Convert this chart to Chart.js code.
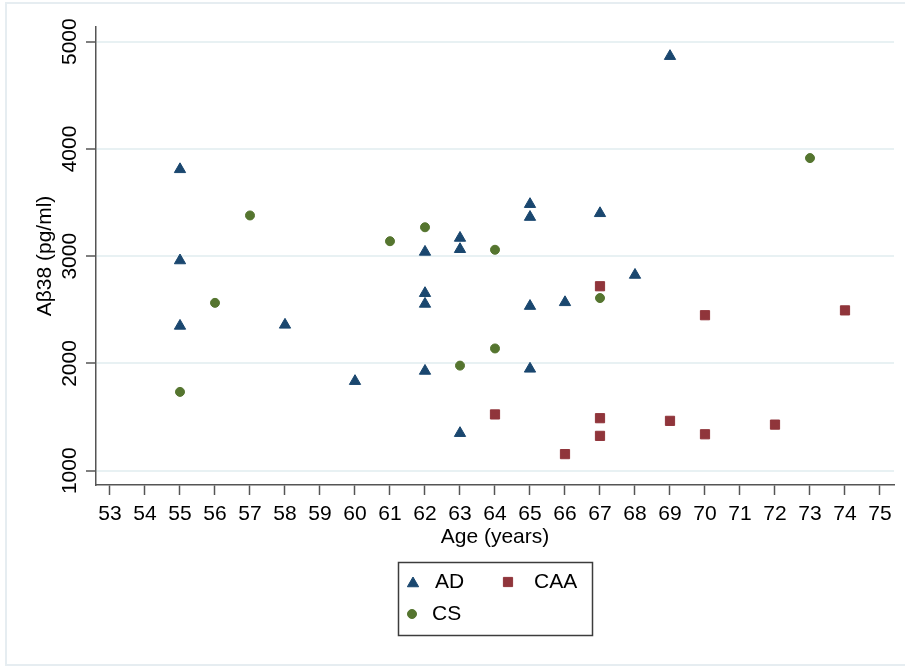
<!DOCTYPE html>
<html>
<head>
<meta charset="utf-8">
<title>Aβ38 by age</title>
<script src="https://cdn.jsdelivr.net/npm/chart.js@4.4.1/dist/chart.umd.min.js"></script>
<style>
  body { margin: 0; background: #fff; }
  #chart { display: block; }
</style>
</head>
<body>
<canvas id="chart" width="905" height="666"></canvas>
<script>
// Values
const xTicks = [53, 54, 55, 56, 57, 58, 59, 60, 61, 62, 63, 64, 65, 66, 67, 68, 69, 70, 71, 72, 73, 74, 75];
const yTicks = [1000, 2000, 3000, 4000, 5000];

const adAge = [55, 55, 55, 58, 60, 62, 62, 62, 62, 63, 63, 63, 65, 65, 65, 65, 66, 67, 68, 69];
const adValue = [3810, 2960, 2350, 2360, 1835, 3040, 2655, 2555, 1930, 3170, 3065, 1350, 3485, 3365, 2535, 1950, 2570, 3400, 2825, 4865];

const caaAge = [64, 66, 67, 67, 67, 69, 70, 70, 72, 74];
const caaValue = [1525, 1155, 2720, 1490, 1325, 1465, 1340, 2450, 1430, 2495];

const csAge = [55, 56, 57, 61, 62, 63, 64, 64, 67, 73];
const csValue = [1735, 2565, 3380, 3140, 3270, 1980, 3060, 2140, 2610, 3915];

function toPoints(xs, ys) {
    return xs.map((x, i) => ({ x: x, y: ys[i] }));
}

// white background + thin light frame round the picture
const framePlugin = {
    id: 'frame',
    beforeDraw(chart) {
        const ctx = chart.ctx;
        ctx.save();
        ctx.fillStyle = '#fff';
        ctx.fillRect(0, 0, chart.width, chart.height);
        ctx.strokeStyle = '#e6edf1';
        ctx.lineWidth = 2;
        ctx.strokeRect(6, 3, chart.width + 10, 662);
        ctx.restore();
    }
};

// Stata-like boxed legend below the axis title (2 columns)
const boxLegendPlugin = {
    id: 'boxLegend',
    afterDraw(chart) {
        const ctx = chart.ctx;
        const slots = [
            { mx: 413, my: 583.5, tx: 435, ty: 582 },
            { mx: 508, my: 582, tx: 534, ty: 582 },
            { mx: 412, my: 614, tx: 432, ty: 614 }
        ];
        ctx.save();
        ctx.strokeStyle = '#3c3c3c';
        ctx.lineWidth = 1.5;
        ctx.strokeRect(398.5, 562.5, 194, 73);
        chart.data.datasets.forEach((ds, i) => {
            const s = slots[i];
            ctx.fillStyle = ds.backgroundColor;
            ctx.strokeStyle = ds.borderColor;
            ctx.lineWidth = ds.borderWidth;
            Chart.helpers.drawPoint(ctx, {
                pointStyle: ds.pointStyle,
                radius: ds.pointRadius,
                rotation: 0,
                borderWidth: ds.borderWidth
            }, s.mx, s.my);
            ctx.fillStyle = '#000';
            ctx.font = "21px 'Liberation Sans', Arial, sans-serif";
            ctx.textBaseline = 'middle';
            ctx.textAlign = 'left';
            ctx.fillText(ds.label, s.tx, s.ty);
        });
        ctx.restore();
    }
};

document.addEventListener('DOMContentLoaded', function() {
    Chart.defaults.font.family = "'Liberation Sans', Arial, sans-serif";
    Chart.defaults.font.size = 21;
    Chart.defaults.color = '#000';

    const canvas = document.getElementById('chart');
    new Chart(canvas.getContext('2d'), {
        type: 'scatter',
        data: {
            datasets: [{
                label: 'AD',
                data: toPoints(adAge, adValue),
                pointStyle: 'triangle',
                pointRadius: 6.5,
                backgroundColor: '#1a476f',
                borderColor: '#1a476f',
                borderWidth: 1
            }, {
                label: 'CAA',
                data: toPoints(caaAge, caaValue),
                pointStyle: 'rect',
                pointRadius: 6.5,
                backgroundColor: '#90353b',
                borderColor: '#90353b',
                borderWidth: 1
            }, {
                label: 'CS',
                data: toPoints(csAge, csValue),
                pointStyle: 'circle',
                pointRadius: 4.5,
                backgroundColor: '#55752f',
                borderColor: '#55752f',
                borderWidth: 1
            }]
        },
        options: {
            responsive: false,
            animation: false,
            layout: { padding: { left: 29, top: 27, right: 11, bottom: 112 } },
            plugins: {
                legend: { display: false },
                tooltip: { enabled: false }
            },
            scales: {
                x: {
                    type: 'linear',
                    min: 52.6,
                    max: 75.4,
                    afterBuildTicks: scale => { scale.ticks = xTicks.map(v => ({ value: v })); },
                    afterFit: scale => { scale.height = 69; },
                    grid: { drawOnChartArea: false, tickLength: 10, tickColor: '#555', tickWidth: 1.5 },
                    border: { color: '#555', width: 1.5 },
                    ticks: { autoSkip: false, minRotation: 0, maxRotation: 0, padding: 7, callback: v => String(v) },
                    title: { display: true, text: 'Age (years)' }
                },
                y: {
                    min: 867,
                    max: 5137,
                    afterBuildTicks: scale => { scale.ticks = yTicks.map(v => ({ value: v })); },
                    afterFit: scale => { scale.width = 67; },
                    grid: { color: '#e8f1f3', lineWidth: 2, tickLength: 10, tickColor: '#555', tickWidth: 1.5 },
                    border: { color: '#555', width: 1.5 },
                    ticks: { autoSkip: false, minRotation: 90, maxRotation: 90, crossAlign: 'center', padding: -8, callback: v => String(v) },
                    title: { display: true, text: 'Aβ38 (pg/ml)' }
                }
            }
        },
        plugins: [framePlugin, boxLegendPlugin]
    });
});
</script>
</body>
</html>
